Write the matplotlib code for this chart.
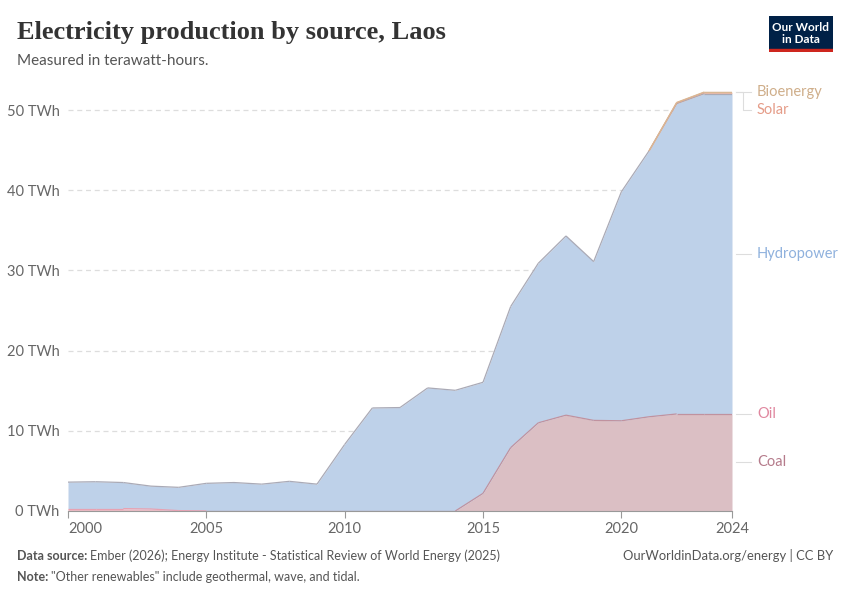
import matplotlib
matplotlib.use("Agg")
import matplotlib.pyplot as plt
import numpy as np
from matplotlib.patches import Rectangle

years = list(range(2000, 2025))
coal = [0, 0, 0, 0, 0, 0, 0, 0, 0, 0, 0, 0, 0, 0, 0,
        2.2, 7.9, 11.0, 11.95, 11.3, 11.25, 11.75, 12.1, 12.1, 12.1]
oil = [0.3, 0.3, 0.3, 0.25, 0.05, 0, 0, 0, 0, 0, 0, 0, 0, 0, 0,
       0, 0, 0, 0, 0, 0, 0, 0, 0, 0]
hydro = [3.3, 3.35, 3.25, 2.85, 2.9, 3.45, 3.55, 3.35, 3.7, 3.35, 8.3, 12.85, 12.9,
         15.35, 15.05, 13.85, 17.6, 19.9, 22.35, 19.8, 28.55, 33.15, 38.7, 39.95, 39.95]
solar = [0]*22 + [0.1, 0.15, 0.15]
bio = [0]*22 + [0.05, 0.05, 0.05]

series_names = ["Coal", "Oil", "Hydropower", "Solar", "Bioenergy"]
fill_colors = ["#dbbfc4", "#f2c4cc", "#bed1e9", "#f0c0ae", "#e6d2bb"]
edge_colors = ["#c0929f", "#e7a2b2", "#aaaab6", "#e2a08b", "#d9b894"]
label_colors = ["#b57b8b", "#e0879f", "#8fb1dd", "#e59c88", "#cfae8a"]
ytick_vals = [0, 10, 20, 30, 40, 50]
ytick_labels = ["0 TWh", "10 TWh", "20 TWh", "30 TWh", "40 TWh", "50 TWh"]
xtick_vals = [2000, 2005, 2010, 2015, 2020, 2024]

plt.rcParams['font.family'] = ['Lato', 'DejaVu Sans']
fig = plt.figure(figsize=(8.5, 6), dpi=100)
ax = fig.add_axes([68/850, 89/600, 664/850, 421/600])

data = np.array([coal, oil, hydro, solar, bio], dtype=float)
cum = np.cumsum(data, axis=0)
x = np.array(years)
prev = np.zeros(len(years))
for i, name in enumerate(series_names):
    top = cum[i]
    ax.fill_between(x, prev, top, color=fill_colors[i], linewidth=0, zorder=2)
    vals = data[i]
    for j in range(len(x) - 1):
        if vals[j] > 0 or vals[j + 1] > 0 or i == 0:
            ax.plot(x[j:j + 2], top[j:j + 2], color=edge_colors[i], lw=0.9,
                    zorder=3 + i, solid_capstyle="butt")
    prev = top

ax.set_xlim(2000, 2024)
ax.set_ylim(0, 52.5)
ax.set_yticks(ytick_vals)
ax.set_yticklabels(ytick_labels)
ax.set_xticks(xtick_vals)
ax.set_xticklabels([str(v) for v in xtick_vals])
ax.get_xticklabels()[0].set_horizontalalignment("left")
for sp in ["top", "right", "left"]:
    ax.spines[sp].set_visible(False)
ax.spines["bottom"].set_color("#999999")
ax.tick_params(axis="y", length=0, labelsize=10.5, labelcolor="#666666", pad=6)
ax.tick_params(axis="x", length=5, color="#999999", labelsize=10.5, labelcolor="#666666", pad=3)
ax.grid(axis="y", color="#dddddd", linestyle=(0, (4, 3)), lw=0.9, zorder=0)
ax.set_axisbelow(True)

# labels on the right
last = cum[:, -1]
lows = np.concatenate([[0], cum[:-1, -1]])
mids = (last + lows) / 2
label_y = {
    "Coal": mids[0],
    "Oil": last[1],
    "Hydropower": mids[2],
    "Solar": last[4] - 2.3,
    "Bioenergy": last[4],
}
x_line0 = 2024.15
x_line1 = 2024.7
x_text = 2024.9
for i, name in enumerate(series_names):
    ly = label_y[name]
    ax.text(x_text, ly, name, color=label_colors[i], fontsize=10.5,
            va="center", ha="left", clip_on=False)
    if name == "Solar":
        ax.plot([x_line0, x_line0 + 0.25, x_line0 + 0.25, x_line1],
                [last[3], last[3], ly, ly], color="#dddddd", lw=0.8, clip_on=False)
    else:
        ax.plot([x_line0, x_line1], [ly, ly], color="#dddddd", lw=0.8, clip_on=False)

# title and subtitle
fig.text(17/850, 1 - 32/600, "Electricity production by source, Laos",
         fontsize=19, fontweight="bold", color="#333333",
         family=["Liberation Serif", "DejaVu Serif"], va="center")
fig.text(17/850, 1 - 61/600, "Measured in terawatt-hours.", fontsize=11,
         color="#555555", va="center")

# logo
logo = fig.add_axes([769/850, 1 - 52/600, 64/850, 36/600])
logo.set_xlim(0, 1); logo.set_ylim(0, 1); logo.axis("off")
logo.add_patch(Rectangle((0, 0.08), 1, 0.92, color="#002147"))
logo.add_patch(Rectangle((0, 0), 1, 0.08, color="#ce261e"))
logo.text(0.5, 0.68, "Our World", color="white", fontsize=8.5, ha="center", va="center", fontweight="bold")
logo.text(0.5, 0.34, "in Data", color="white", fontsize=8.5, ha="center", va="center", fontweight="bold")

# footer
fig.text(17/850, 1 - 556/600, "Data source:", fontsize=9, color="#555555", fontweight="bold", va="center")
fig.text(90/850, 1 - 556/600, "Ember (2026); Energy Institute - Statistical Review of World Energy (2025)",
         fontsize=9, color="#555555", va="center")
fig.text(833/850, 1 - 556/600, "OurWorldinData.org/energy | CC BY", fontsize=9.4,
         color="#555555", va="center", ha="right")
fig.text(17/850, 1 - 577/600, "Note:", fontsize=9, color="#555555", fontweight="bold", va="center")
fig.text(51/850, 1 - 577/600, "\"Other renewables\" include geothermal, wave, and tidal.",
         fontsize=9, color="#555555", va="center")

fig.savefig("out.png", dpi=100)
